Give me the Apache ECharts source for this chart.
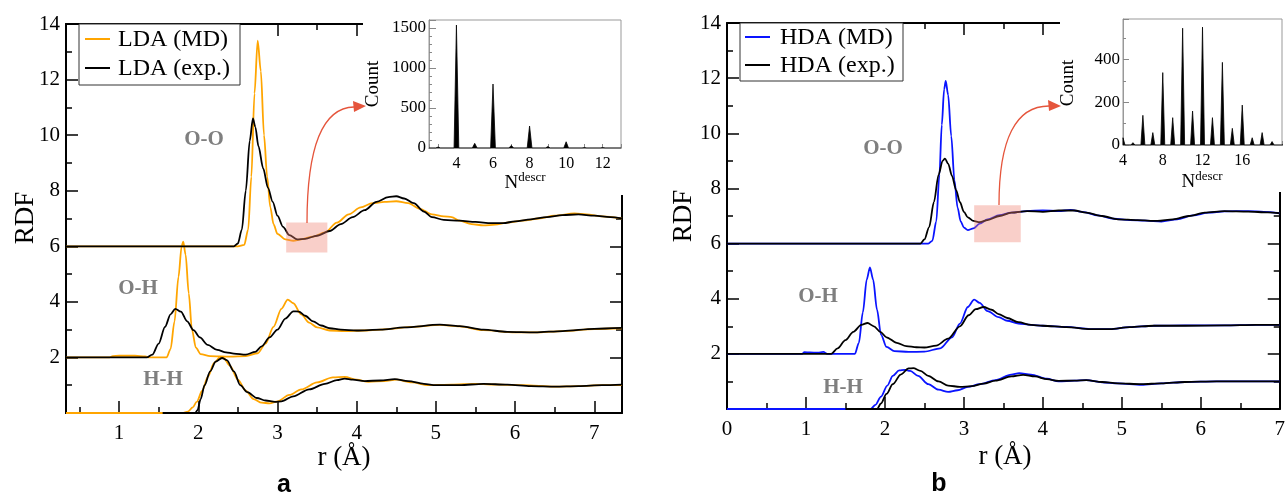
<!DOCTYPE html>
<html><head><meta charset="utf-8">
<script src="https://cdn.jsdelivr.net/npm/echarts@6/dist/echarts.min.js"></script>
<style>html,body{margin:0;padding:0;background:#fff;overflow:hidden}
.layer{position:absolute;left:0;top:0;width:1288px;height:495px}
#base{z-index:1}#deco{z-index:2}#inset{z-index:3}</style>
</head><body>
<div class="layer" id="base"></div><div class="layer" id="deco"></div><div class="layer" id="inset"></div>
<script>
// ---------------- DATA ----------------
// Panel a (LDA): [r, RDF as plotted with vertical offsets]
const ldaOO_md = [[0.33,6],[2.5,6],[2.58,6.05],[2.63,6.6],[2.67,8.5],[2.71,11.5],[2.75,13.4],[2.79,12.3],[2.83,10.0],[2.87,8.5],[2.91,7.4],[2.95,6.8],[3.0,6.45],[3.1,6.25],[3.2,6.2],[3.3,6.25],[3.45,6.35],[3.6,6.5],[3.75,6.85],[3.9,7.15],[4.05,7.4],[4.2,7.55],[4.35,7.6],[4.5,7.62],[4.65,7.55],[4.8,7.35],[4.95,7.15],[5.1,7.08],[5.2,7.05],[5.3,6.92],[5.45,6.8],[5.6,6.75],[5.75,6.78],[5.9,6.85],[6.1,6.92],[6.3,7.0],[6.5,7.1],[6.75,7.18],[6.9,7.15],[7.1,7.08],[7.35,7.0]];
const ldaOO_exp = [[0.33,6],[2.45,6],[2.5,6.1],[2.55,6.6],[2.6,8.0],[2.65,9.8],[2.69,10.6],[2.72,10.3],[2.76,9.6],[2.82,8.8],[2.88,8.1],[2.94,7.6],[3.0,7.1],[3.07,6.7],[3.15,6.4],[3.25,6.25],[3.35,6.27],[3.5,6.38],[3.66,6.55],[3.8,6.8],[3.95,7.05],[4.1,7.3],[4.25,7.6],[4.4,7.77],[4.5,7.8],[4.6,7.72],[4.72,7.55],[4.85,7.25],[4.95,7.05],[5.1,6.95],[5.3,6.92],[5.5,6.88],[5.7,6.83],[5.85,6.83],[6.0,6.9],[6.2,6.97],[6.4,7.05],[6.6,7.12],[6.8,7.15],[7.0,7.1],[7.2,7.05],[7.35,7.0]];
const ldaOH_md = [[0.33,2],[0.88,2],[0.92,2.05],[1.0,2.06],[1.2,2.06],[1.33,2.04],[1.38,2.0],[1.6,2.0],[1.65,2.3],[1.7,3.3],[1.75,4.9],[1.79,6.0],[1.81,6.17],[1.84,5.7],[1.88,4.3],[1.92,3.0],[1.97,2.35],[2.03,2.12],[2.15,2.05],[2.4,2.03],[2.6,2.05],[2.75,2.15],[2.85,2.5],[2.95,3.1],[3.05,3.75],[3.13,4.08],[3.2,3.95],[3.3,3.55],[3.4,3.25],[3.5,3.08],[3.66,2.97],[3.85,2.95],[4.1,2.97],[4.4,3.02],[4.7,3.1],[5.05,3.17],[5.3,3.12],[5.6,2.98],[6.0,2.9],[6.3,2.9],[6.6,2.95],[7.0,3.02],[7.35,3.05]];
const ldaOH_exp = [[0.33,2],[1.35,2.0],[1.42,2.1],[1.5,2.5],[1.58,3.1],[1.65,3.55],[1.71,3.75],[1.78,3.65],[1.86,3.3],[1.94,2.98],[2.02,2.72],[2.12,2.45],[2.24,2.27],[2.35,2.18],[2.45,2.14],[2.6,2.1],[2.72,2.2],[2.8,2.4],[2.9,2.72],[3.0,3.0],[3.1,3.4],[3.2,3.66],[3.27,3.65],[3.35,3.5],[3.45,3.3],[3.55,3.15],[3.66,3.05],[3.8,3.0],[4.0,2.97],[4.3,3.0],[4.6,3.08],[5.05,3.18],[5.3,3.13],[5.6,3.0],[5.9,2.92],[6.25,2.9],[6.6,2.95],[7.0,3.03],[7.35,3.06]];
const ldaHH_md = [[0.33,0],[1.8,0],[1.87,0.05],[1.93,0.2],[1.98,0.4],[2.05,0.8],[2.12,1.3],[2.2,1.8],[2.27,2.0],[2.32,1.98],[2.4,1.7],[2.5,1.2],[2.6,0.8],[2.7,0.5],[2.8,0.37],[2.9,0.35],[3.0,0.42],[3.15,0.65],[3.3,0.85],[3.5,1.1],[3.7,1.28],[3.85,1.3],[4.0,1.2],[4.15,1.12],[4.35,1.15],[4.5,1.2],[4.7,1.1],[4.9,1.0],[5.2,1.02],[5.5,1.05],[5.8,1.02],[6.1,1.0],[6.5,0.95],[6.8,0.97],[7.1,1.0],[7.35,1.0]];
const ldaHH_exp = [[1.55,0],[1.96,0],[1.99,0.1],[2.03,0.5],[2.08,1.0],[2.15,1.5],[2.22,1.85],[2.3,1.98],[2.36,1.9],[2.45,1.5],[2.53,1.0],[2.62,0.75],[2.74,0.54],[2.85,0.45],[2.97,0.4],[3.05,0.42],[3.2,0.6],[3.4,0.85],[3.6,1.05],[3.75,1.18],[3.85,1.24],[3.95,1.2],[4.1,1.15],[4.3,1.17],[4.48,1.22],[4.65,1.15],[4.85,1.05],[5.0,1.0],[5.3,1.0],[5.6,1.05],[5.9,1.02],[6.2,0.97],[6.5,0.95],[6.8,0.97],[7.1,1.0],[7.35,1.02]];
// Panel b (HDA)
const hdaOO_md = [[0,6],[2.55,6],[2.6,6.1],[2.65,6.8],[2.69,8.5],[2.72,10.3],[2.75,11.6],[2.77,11.9],[2.8,11.4],[2.84,9.9],[2.88,8.3],[2.92,7.3],[2.96,6.8],[3.0,6.58],[3.05,6.49],[3.12,6.55],[3.2,6.72],[3.3,6.88],[3.45,7.03],[3.6,7.12],[3.8,7.18],[4.0,7.2],[4.2,7.18],[4.35,7.22],[4.5,7.15],[4.7,7.02],[4.9,6.9],[5.1,6.85],[5.3,6.83],[5.5,6.8],[5.7,6.88],[5.9,7.02],[6.1,7.12],[6.3,7.17],[6.6,7.18],[6.8,7.15],[7.0,7.1]];
const hdaOO_exp = [[0,6],[2.45,6],[2.5,6.15],[2.56,6.6],[2.62,7.5],[2.68,8.5],[2.73,9.0],[2.76,9.08],[2.8,8.9],[2.85,8.45],[2.9,7.95],[2.95,7.5],[3.0,7.15],[3.05,6.95],[3.12,6.82],[3.2,6.78],[3.3,6.85],[3.45,7.0],[3.6,7.12],[3.8,7.18],[4.0,7.15],[4.2,7.2],[4.4,7.2],[4.55,7.12],[4.75,7.0],[4.95,6.88],[5.2,6.85],[5.45,6.82],[5.65,6.88],[5.85,7.0],[6.05,7.12],[6.3,7.18],[6.6,7.16],[6.85,7.13],[7.0,7.1]];
const hdaOH_md = [[0,2],[0.95,2],[0.98,2.06],[1.05,2.05],[1.15,2.04],[1.22,2.07],[1.27,2.0],[1.62,2.0],[1.67,2.4],[1.72,3.5],[1.77,4.7],[1.81,5.14],[1.85,4.7],[1.9,3.6],[1.95,2.7],[2.02,2.25],[2.12,2.1],[2.3,2.07],[2.5,2.08],[2.7,2.2],[2.85,2.6],[2.95,3.1],[3.05,3.7],[3.13,3.97],[3.2,3.85],[3.3,3.55],[3.44,3.33],[3.55,3.2],[3.69,3.1],[3.85,3.05],[4.0,3.02],[4.3,2.98],[4.6,2.9],[4.85,2.9],[5.1,2.97],[5.4,3.02],[5.8,3.03],[6.3,3.03],[6.7,3.05],[7.0,3.05]];
const hdaOH_exp = [[0,2],[1.32,2],[1.4,2.2],[1.5,2.5],[1.6,2.8],[1.7,3.05],[1.78,3.12],[1.86,3.0],[1.94,2.8],[2.02,2.6],[2.15,2.4],[2.27,2.28],[2.4,2.24],[2.5,2.23],[2.65,2.3],[2.8,2.55],[2.95,3.0],[3.06,3.4],[3.15,3.62],[3.25,3.7],[3.35,3.6],[3.44,3.44],[3.55,3.3],[3.69,3.15],[3.85,3.05],[4.0,3.02],[4.3,2.97],[4.6,2.9],[4.85,2.9],[5.1,2.97],[5.4,3.02],[5.8,3.02],[6.3,3.03],[6.7,3.05],[7.0,3.05]];
const hdaHH_md = [[0,0],[1.82,0],[1.88,0.15],[1.95,0.45],[2.03,0.85],[2.1,1.2],[2.18,1.4],[2.25,1.42],[2.32,1.38],[2.42,1.2],[2.55,0.9],[2.68,0.7],[2.8,0.62],[2.92,0.68],[3.05,0.8],[3.2,0.9],[3.4,1.05],[3.6,1.25],[3.7,1.3],[3.85,1.25],[4.05,1.1],[4.2,1.0],[4.4,1.03],[4.55,1.05],[4.75,0.97],[4.95,0.93],[5.25,0.88],[5.5,0.93],[5.8,0.98],[6.2,1.0],[7.0,1.0]];
const hdaHH_exp = [[1.5,0],[1.9,0],[1.95,0.2],[2.02,0.55],[2.1,0.9],[2.2,1.25],[2.3,1.47],[2.36,1.48],[2.45,1.38],[2.55,1.2],[2.68,1.0],[2.8,0.85],[2.95,0.8],[3.1,0.83],[3.25,0.92],[3.4,1.03],[3.6,1.18],[3.75,1.24],[3.9,1.18],[4.05,1.08],[4.2,1.02],[4.4,1.03],[4.55,1.05],[4.75,0.98],[4.95,0.93],[5.25,0.9],[5.5,0.93],[5.8,0.98],[6.2,1.0],[7.0,1.0]];
// Insets: counts per N_descr
const ldaN = [3,4,5,6,7,8,9,10,11,12];
const ldaCount = [12,1537,58,800,32,275,18,78,5,5];
const hdaN = [4,5,6,7,8,9,10,11,12,13,14,15,16,17,18,19,20];
const hdaCount = [34,11,139,58,339,128,547,159,552,128,387,78,187,34,58,16,5];
// Tick labels
const ldaXLabels = [1,2,3,4,5,6,7];
const ldaInsetXLabels = [4,6,8,10,12];
const ldaInsetYLabels = [0,500,1000,1500];
const hdaInsetXLabels = [4,8,12,16];
const hdaInsetYLabels = [0,200,400];
// Highlighted regions [r0, r1, y0, y1]
const ldaBox = [3.11, 3.63, 5.78, 6.86];
const hdaBox = [3.13, 3.72, 6.05, 7.39];

// ---------------- HELPERS ----------------
const SERIF = '"Liberation Serif","Times New Roman",serif';
const ORANGE = '#ffa500', BLUE = '#0a14ff', BLACK = '#000';
const near = (v, list)=> list.some(t=>Math.abs(v-t)<1e-6);
const only = (list)=> (v)=> near(v, list) ? String(Math.round(v)) : '';
const gridA = ()=>({left:66, top:24, width:556, height:389});
const gridB = ()=>({left:727, top:23, width:555, height:386});
const gridIA = ()=>({left:429, top:20, width:192, height:128});
const gridIB = ()=>({left:1123, top:19, width:159, height:126});

// ---------------- BASE LAYER: main axes + RDF curves ----------------
function yMain(gi, pos, showLbl){
  return {gridIndex:gi, type:'value', position:pos, min:0, max:14, interval:2,
    splitLine:{show:false}, axisLine:{show:true, onZero:false, lineStyle:{color:'#000', width:2}},
    axisTick:{show:true, inside:true, length:12, lineStyle:{color:'#000', width:1.5}},
    minorTick:{show:true, splitNumber:2, length:6, lineStyle:{color:'#000', width:1.5}},
    axisLabel:{show:showLbl, margin:6, fontSize:21, fontFamily:SERIF, color:'#000', formatter:v=> v===0?'':String(v)}};
}
function xLda(gi, pos, major){
  return {gridIndex:gi, type:'value', position:pos, min:0.33, max:7.35, splitNumber: major?5:14,
    splitLine:{show:false}, axisLine:{show:major, onZero:false, lineStyle:{color:'#000', width:2}},
    axisTick:{show:true, inside:true, length: major?12:6, lineStyle:{color:'#000', width:1.5}},
    axisLabel:{show: major && pos==='bottom', margin:10, fontSize:21, fontFamily:SERIF, color:'#000', formatter:only(ldaXLabels)}};
}
function xHda(pos){
  return {gridIndex:2, type:'value', position:pos, min:0, max:7, interval:1,
    splitLine:{show:false}, axisLine:{show:true, onZero:false, lineStyle:{color:'#000', width:2}},
    axisTick:{show:true, inside:true, length:12, lineStyle:{color:'#000', width:1.5}},
    minorTick:{show:true, splitNumber:2, length:6, lineStyle:{color:'#000', width:1.5}},
    axisLabel:{show: pos==='bottom', margin:10, fontSize:21, fontFamily:SERIF, color:'#000'}};
}
function curve(name, data, color, xi, yi){
  return {type:'line', name, data, xAxisIndex:xi, yAxisIndex:yi, symbol:'none', smooth:0.3, smoothMonotone:'x',
    lineStyle:{color, width:1.8}, itemStyle:{color}};
}
const base = echarts.init(document.getElementById('base'));
base.setOption({
  animation:false,
  grid:[gridA(), gridA(), gridB()],
  xAxis:[
    xLda(0,'bottom',true),   // 0
    xLda(0,'top',true),      // 1
    xLda(1,'bottom',false),  // 2 minor ticks (overlay grid)
    xLda(1,'top',false),     // 3
    xHda('bottom'),          // 4
    xHda('top')              // 5
  ],
  yAxis:[
    yMain(0,'left',true),    // 0
    yMain(0,'right',false),  // 1
    yMain(1,'left',false),   // 2 (overlay grid, same place as 0)
    yMain(2,'left',true),    // 3
    yMain(2,'right',false)   // 4
  ],
  series:[
    curve('LDA (MD)', ldaOO_md, ORANGE, 0, 0),
    curve('LDA (MD)', ldaOH_md, ORANGE, 0, 0),
    curve('LDA (MD)', ldaHH_md, ORANGE, 0, 0),
    curve('LDA (exp.)', ldaOO_exp, BLACK, 0, 0),
    curve('LDA (exp.)', ldaOH_exp, BLACK, 0, 0),
    curve('LDA (exp.)', ldaHH_exp, BLACK, 0, 0),
    curve('HDA (MD)', hdaOO_md, BLUE, 4, 3),
    curve('HDA (MD)', hdaOH_md, BLUE, 4, 3),
    curve('HDA (MD)', hdaHH_md, BLUE, 4, 3),
    curve('HDA (exp.)', hdaOO_exp, BLACK, 4, 3),
    curve('HDA (exp.)', hdaOH_exp, BLACK, 4, 3),
    curve('HDA (exp.)', hdaHH_exp, BLACK, 4, 3),
    {type:'line', data:[], xAxisIndex:2, yAxisIndex:2, symbol:'none'}
  ]
});

// ---------------- DECORATION LAYER ----------------
const px = (xi, yi, pt)=> base.convertToPixel({xAxisIndex:xi, yAxisIndex:yi}, pt);
function boxRect(xi, yi, b){
  const p0 = px(xi, yi, [b[0], b[3]]), p1 = px(xi, yi, [b[1], b[2]]);
  return {type:'rect', shape:{x:p0[0], y:p0[1], width:p1[0]-p0[0], height:p1[1]-p0[1]},
    style:{fill:'rgba(240,128,112,0.38)'}, z:3, silent:true};
}
const txt = (x,y,text,font,fill,extra)=>Object.assign({type:'text', x, y, z:20, silent:true,
  style:{text, font, fill:fill||'#000', align:'center', verticalAlign:'middle'}}, extra||{});
const LABEL_FONT = 'bold 21px "Liberation Serif"';
function legendEls(x, y, w, h, lx, tx, ys, names, colors){
  const els = [{type:'rect', shape:{x, y, width:w, height:h}, style:{fill:'#fff', stroke:'#333', lineWidth:1}, z:10, silent:true}];
  names.forEach((n,i)=>{
    els.push({type:'line', shape:{x1:lx, y1:ys[i], x2:lx+25, y2:ys[i]}, style:{stroke:colors[i], lineWidth:2}, z:11, silent:true});
    els.push({type:'text', x:tx, y:ys[i]+1, z:11, silent:true, style:{text:n, font:'24px "Liberation Serif"', fill:'#000', align:'left', verticalAlign:'middle'}});
  });
  return els;
}
const richN = {n:{fontSize:19, fontFamily:SERIF, fill:'#000', color:'#000'}, s:{fontSize:13, fontFamily:SERIF, fill:'#000', color:'#000', padding:[0,0,10,0]}};
const deco = echarts.init(document.getElementById('deco'));
deco.setOption({animation:false, graphic:{elements:[
  {type:'rect', shape:{x:363, y:0, width:277, height:195}, style:{fill:'#fff'}, z:5, silent:true},
  {type:'rect', shape:{x:1060, y:0, width:228, height:192}, style:{fill:'#fff'}, z:5, silent:true},
  boxRect(0, 0, ldaBox),
  boxRect(4, 3, hdaBox),
  {type:'bezierCurve', shape:{x1:307, y1:223, x2:354, y2:107, cpx1:307, cpy1:108}, style:{stroke:'#e5553c', lineWidth:1.3, fill:null}, z:20, silent:true},
  {type:'polygon', shape:{points:[[366,106],[353,101],[354,112]]}, style:{fill:'#e5553c'}, z:20, silent:true},
  {type:'bezierCurve', shape:{x1:999, y1:205, x2:1049, y2:106, cpx1:999, cpy1:106}, style:{stroke:'#e5553c', lineWidth:1.3, fill:null}, z:20, silent:true},
  {type:'polygon', shape:{points:[[1061,106],[1048,100],[1049,111]]}, style:{fill:'#e5553c'}, z:20, silent:true},
  ...legendEls(79, 24, 161, 61, 85, 118, [39, 68], ['LDA (MD)','LDA (exp.)'], [ORANGE, BLACK]),
  ...legendEls(740, 23, 163, 58, 745, 780, [37, 65], ['HDA (MD)','HDA (exp.)'], [BLUE, BLACK]),
  txt(26, 218, 'RDF', '27px "Liberation Serif"', '#000', {rotation:Math.PI/2}),
  txt(684, 216, 'RDF', '27px "Liberation Serif"', '#000', {rotation:Math.PI/2}),
  txt(344, 458, 'r (Å)', '27px "Liberation Serif"'),
  txt(1005, 457, 'r (Å)', '27px "Liberation Serif"'),
  txt(373, 84, 'Count', '19px "Liberation Serif"', '#000', {rotation:Math.PI/2}),
  txt(1068, 83, 'Count', '19px "Liberation Serif"', '#000', {rotation:Math.PI/2}),
  {type:'text', x:525, y:183, z:20, silent:true, style:{text:'{n|N}{s|descr}', rich:richN, align:'center', verticalAlign:'middle', fill:'#000'}},
  {type:'text', x:1202, y:182, z:20, silent:true, style:{text:'{n|N}{s|descr}', rich:richN, align:'center', verticalAlign:'middle', fill:'#000'}},
  txt(204, 140, 'O-O', LABEL_FONT, '#7f7f7f'),
  txt(138, 289, 'O-H', LABEL_FONT, '#7f7f7f'),
  txt(163, 380, 'H-H', LABEL_FONT, '#7f7f7f'),
  txt(883, 149, 'O-O', LABEL_FONT, '#7f7f7f'),
  txt(818, 297, 'O-H', LABEL_FONT, '#7f7f7f'),
  txt(843, 388, 'H-H', LABEL_FONT, '#7f7f7f'),
  txt(284, 485, 'a', 'bold 25px "Liberation Sans"'),
  txt(939, 484, 'b', 'bold 25px "Liberation Sans"')
]}});

// ---------------- INSET LAYER ----------------
function spikes(ns, cs, hw, x0, x1){
  const d = [[x0,0]];
  ns.forEach((n,i)=>{ d.push([n-hw,0],[n,cs[i]],[n+hw,0]); });
  d.push([x1,0]);
  return d;
}
const gray = ()=>({show:true, onZero:false, lineStyle:{color:'#999', width:1}});
const gtick = (len)=>({show:true, inside:true, length:len, lineStyle:{color:'#888', width:1}});
const ilbl = (list, extra)=>Object.assign({color:'#000', fontFamily:SERIF, fontSize:17, formatter:only(list)}, extra||{});
const inset = echarts.init(document.getElementById('inset'));
inset.setOption({
  animation:false,
  grid:[
    Object.assign({show:true, borderColor:'#999', borderWidth:1}, gridIA()),
    Object.assign({show:true, borderColor:'#999', borderWidth:1}, gridIB()),
    gridIA()
  ],
  xAxis:[
    {gridIndex:0, type:'value', min:2.5, max:13, splitNumber:10, splitLine:{show:false}, axisLine:gray(), axisTick:gtick(4),
     axisLabel:ilbl(ldaInsetXLabels, {margin:8, fontSize:16})},
    {gridIndex:1, type:'value', min:4, max:20, interval:2, splitLine:{show:false}, axisLine:gray(), axisTick:gtick(4),
     axisLabel:ilbl(hdaInsetXLabels, {margin:8, fontSize:16})},
    {gridIndex:2, type:'value', min:2.5, max:13, splitNumber:10, splitLine:{show:false}, axisLine:gray(), axisTick:gtick(4),
     axisLabel:{show:false}}
  ],
  yAxis:[
    {gridIndex:0, type:'value', min:0, max:1600, interval:100, splitLine:{show:false}, axisLine:gray(), axisTick:gtick(3),
     axisLabel:ilbl(ldaInsetYLabels, {margin:3})},
    {gridIndex:1, type:'value', min:0, max:590, interval:200, splitLine:{show:false}, axisLine:gray(), axisTick:gtick(6),
     minorTick:{show:true, splitNumber:2, length:3, lineStyle:{color:'#888', width:1}},
     axisLabel:ilbl(hdaInsetYLabels, {margin:3})},
    {gridIndex:2, type:'value', min:0, max:1600, interval:500, splitLine:{show:false}, axisLine:gray(), axisTick:gtick(7),
     axisLabel:{show:false}}
  ],
  series:[
    {type:'line', data:spikes(ldaN, ldaCount, 0.13, 2.5, 13), xAxisIndex:0, yAxisIndex:0,
     symbol:'none', lineStyle:{color:'#000', width:0.8}, areaStyle:{color:'#000', opacity:1}},
    {type:'line', data:spikes(hdaN, hdaCount, 0.2, 4, 20), xAxisIndex:1, yAxisIndex:1,
     symbol:'none', lineStyle:{color:'#000', width:0.8}, areaStyle:{color:'#000', opacity:1}},
    {type:'line', data:[], xAxisIndex:2, yAxisIndex:2, symbol:'none'}
  ]
});
</script></body></html>
